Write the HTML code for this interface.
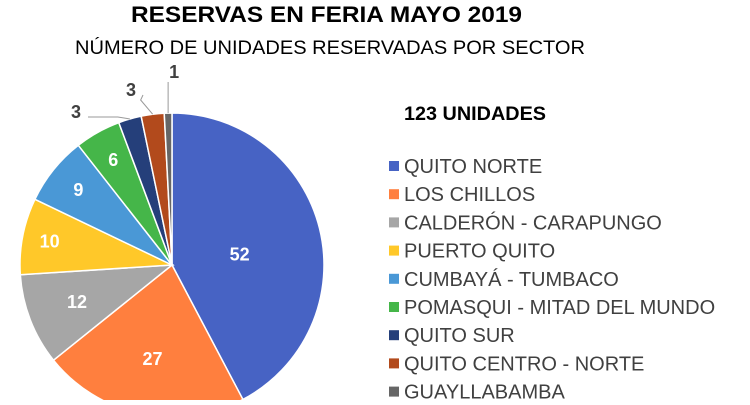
<!DOCTYPE html>
<html><head><meta charset="utf-8"><style>
body{margin:0;background:#fff;}
svg text{font-family:"Liberation Sans",sans-serif;}
</style></head><body>
<svg id="c" width="750" height="400" viewBox="0 0 750 400">
<text x="131" y="22" textLength="391" lengthAdjust="spacingAndGlyphs" font-size="22" font-weight="bold" fill="#000">RESERVAS EN FERIA MAYO 2019</text>
<text x="75" y="54" textLength="510" lengthAdjust="spacingAndGlyphs" font-size="19" fill="#000">NÚMERO DE UNIDADES RESERVADAS POR SECTOR</text>
<text x="404" y="120" textLength="142" lengthAdjust="spacingAndGlyphs" font-size="19" font-weight="bold" fill="#000">123 UNIDADES</text>
<g id="slices"></g><g id="labels"></g><g id="legend"></g>
</svg>
<script>
const categories=["QUITO NORTE","LOS CHILLOS","CALDERÓN - CARAPUNGO","PUERTO QUITO","CUMBAYÁ - TUMBACO","POMASQUI - MITAD DEL MUNDO","QUITO SUR","QUITO CENTRO - NORTE","GUAYLLABAMBA"];
const values=[52,27,12,10,9,6,3,3,1];
const colors=["#4763C4","#FF7F3E","#A6A6A6","#FFC829","#4A98D6","#45B649","#253F7A","#B24A1C","#666666"];
const NS="http://www.w3.org/2000/svg";
const cx=172,cy=265,r=152;
const lf=[0.45,0.63,0.67,0.82,0.79,0.79];
const total=values.reduce((a,b)=>a+b,0);
const sl=document.getElementById('slices'),lb=document.getElementById('labels'),lg=document.getElementById('legend');
function pt(a,rr){return [cx+rr*Math.sin(a),cy-rr*Math.cos(a)];}
let acc=0;
values.forEach((v,i)=>{
  const a0=acc/total*2*Math.PI; acc+=v; const a1=acc/total*2*Math.PI;
  const p0=pt(a0,r),p1=pt(a1,r);
  const p=document.createElementNS(NS,'path');
  p.setAttribute('d',`M${cx},${cy}L${p0[0]},${p0[1]}A${r},${r} 0 ${a1-a0>Math.PI?1:0} 1 ${p1[0]},${p1[1]}Z`);
  p.setAttribute('fill',colors[i]);p.setAttribute('stroke','#fff');p.setAttribute('stroke-width','1.5');
  
  
  sl.appendChild(p);
  const am=(a0+a1)/2;
  const t=document.createElementNS(NS,'text');
  t.setAttribute('font-size','18');t.setAttribute('font-weight','bold');
  t.setAttribute('text-anchor','middle');
  if(v/total>0.035){
    const q=pt(am+(i===0?0.09:0),r*(lf[i]||0.7));
    t.setAttribute('x',q[0]);t.setAttribute('y',q[1]+6);t.setAttribute('fill','#fff');
  }else{
    const e=pt(am,r);
    const k=i-6;
    const lx=[80,135,172][k]||e[0], ly=[117,95,78][k]||e[1]-30;
    const mid=k===0?[e[0]-12,ly]:(k===1?[e[0]-12,ly+5]:[e[0],ly+4]);
    const ln=document.createElementNS(NS,'polyline');
    ln.setAttribute('points',`${e[0]},${e[1]} ${mid[0]},${mid[1]} ${k===2?e[0]:lx+8},${k===2?ly+4:ly}`);
    ln.setAttribute('fill','none');ln.setAttribute('stroke','#999');ln.setAttribute('stroke-width','1');
    
    
    lb.appendChild(ln);
    t.setAttribute('x',k===2?e[0]+6:lx-4);t.setAttribute('y',k===2?ly:ly+1);t.setAttribute('fill','#404040');
  }
  t.textContent=v;
  
  
  lb.appendChild(t);
  const g=document.createElementNS(NS,'g');
  
  
  const y=166+i*28.2;
  const s=document.createElementNS(NS,'rect');
  s.setAttribute('x',389);s.setAttribute('y',y-5);s.setAttribute('width',10);s.setAttribute('height',10);s.setAttribute('fill',colors[i]);
  const lt=document.createElementNS(NS,'text');
  lt.setAttribute('x',404);lt.setAttribute('y',y+7);lt.setAttribute('font-size','20');lt.setAttribute('fill','#404040');
  lt.textContent=categories[i];
  g.appendChild(s);g.appendChild(lt);lg.appendChild(g);
});
</script>
</body></html>
